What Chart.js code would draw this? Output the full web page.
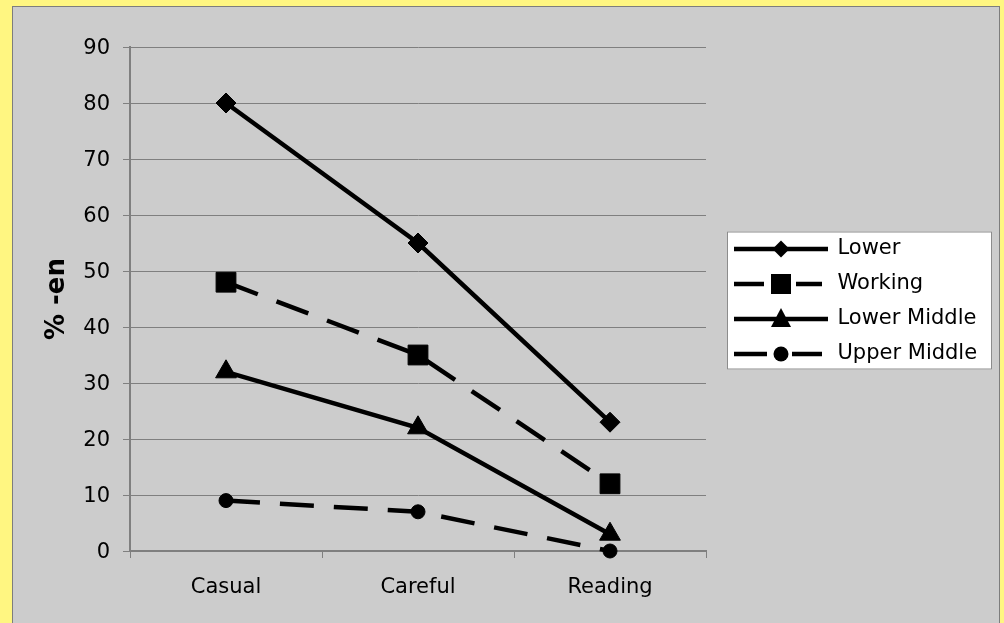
<!DOCTYPE html>
<html>
<head>
<meta charset="utf-8">
<script src="https://cdn.jsdelivr.net/npm/chart.js@4"></script>
<style>
  html, body { margin: 0; padding: 0; background: #FFF681; width: 1004px; height: 623px; overflow: hidden; }
  #panel { position: absolute; left: 12px; top: 6px; width: 986px; height: 620px; background: #CCCCCC;
           border: 1px solid #7d7d7d; border-bottom: none; }
  canvas { display: block; }
</style>
</head>
<body>
<div id="panel"><canvas id="c" width="986" height="616"></canvas></div>
<script>
const categories = ['Casual', 'Careful', 'Reading'];
const seriesNames = ['Lower', 'Working', 'Lower Middle', 'Upper Middle'];
const lowerValues = [80, 55, 23];
const workingValues = [48, 35, 12];
const lowerMiddleValues = [32, 22, 3];
const upperMiddleValues = [9, 7, 0];
const yTickMin = 0, yTickMax = 90, yTickStep = 10;
const yTitle = '% -en';

const FONT = "'DejaVu Sans', Verdana, sans-serif";
Chart.defaults.font.family = FONT;
Chart.defaults.font.size = 21;
Chart.defaults.color = '#000';

function legendImage(kind, dashed) {
  const c = document.createElement('canvas');
  c.width = 94; c.height = 26;
  const g = c.getContext('2d');
  g.fillStyle = '#000'; g.strokeStyle = '#000'; g.lineWidth = 4.5;
  const cx = 47, cy = 13;
  g.beginPath();
  if (dashed) {
    const gapL = kind === 'circle' ? 33 : 30;
    const gapR = kind === 'circle' ? 58 : 62;
    g.moveTo(0, cy); g.lineTo(gapL, cy);
    g.moveTo(gapR, cy); g.lineTo(88, cy);
  } else {
    g.moveTo(0, cy); g.lineTo(94, cy);
  }
  g.stroke();
  g.beginPath();
  if (kind === 'rectRot') {
    g.moveTo(cx - 8.5, cy); g.lineTo(cx, cy - 8.5); g.lineTo(cx + 8.5, cy); g.lineTo(cx, cy + 8.5);
  } else if (kind === 'rect') {
    g.rect(cx - 10, cy - 10, 20, 20);
  } else if (kind === 'triangle') {
    g.moveTo(cx, cy - 11); g.lineTo(cx + 10, cy + 8); g.lineTo(cx - 10, cy + 8);
  } else {
    g.arc(cx, cy, 7.5, 0, Math.PI * 2);
  }
  g.closePath();
  g.fill();
  return c;
}

const styles = [
  {values: lowerValues, point: 'rectRot', radius: 10, dash: []},
  {values: workingValues, point: 'rect', radius: 14, dash: [34, 20]},
  {values: lowerMiddleValues, point: 'triangle', radius: 12, dash: []},
  {values: upperMiddleValues, point: 'circle', radius: 7, dash: [34, 20]},
];
const legendImgs = styles.map(s => legendImage(s.point, s.dash.length > 0));

const datasets = styles.map((s, i) => ({
  label: seriesNames[i],
  data: s.values,
  borderColor: '#000',
  backgroundColor: '#000',
  borderWidth: 4.5,
  borderDash: s.dash,
  tension: 0,
  fill: false,
  pointStyle: s.point,
  pointRadius: s.radius,
  pointBackgroundColor: '#000',
  pointBorderColor: '#000',
  pointBorderWidth: 1,
  clip: false
}));

const LEGEND_TITLE_H = 5;

const legendBox = {
  id: 'legendBox',
  beforeDraw(chart) {
    const lg = chart.legend;
    if (!lg) return;
    const pad = lg.options.labels.padding;
    const itemH = lg.options.labels.font.size;
    const n = lg.legendItems.length;
    const colH = n * (itemH + pad);
    const startY = (lg.top + LEGEND_TITLE_H + pad + lg.bottom - colH) / 2;
    const ctx = chart.ctx;
    const x = lg.left + pad - 8;
    const y = startY - 7;
    const w = 265;
    const h = colH - pad + 12;
    ctx.save();
    ctx.fillStyle = '#fff';
    ctx.fillRect(x, y, w, h);
    ctx.strokeStyle = '#8c8c8c';
    ctx.lineWidth = 1;
    ctx.strokeRect(x + 0.5, y + 0.5, w - 1, h - 1);
    ctx.restore();
  }
};

new Chart(document.getElementById('c'), {
  type: 'line',
  data: { labels: categories, datasets },
  options: {
    responsive: false,
    animation: false,
    devicePixelRatio: 1,
    events: [],
    layout: { padding: { left: 0, top: 40, right: 14, bottom: 12 } },
    scales: {
      x: {
        offset: true,
        grid: { display: true, drawOnChartArea: false, drawTicks: true, tickLength: 7, offset: true, color: '#7f7f7f', lineWidth: 1 },
        border: { display: true, color: '#7f7f7f', width: 2 },
        ticks: { padding: 17, font: { size: 21 }, color: '#000' },
        afterFit(s) { s.height = 60; }
      },
      y: {
        min: yTickMin, max: yTickMax,
        ticks: { stepSize: yTickStep, padding: 13, labelOffset: 1.5, font: { size: 21 }, color: '#000' },
        grid: { color: '#7f7f7f', lineWidth: 1, tickLength: 7 },
        border: { display: true, color: '#7f7f7f', width: 2 },
        title: { display: true, text: yTitle, font: { size: 26, weight: 'bold' }, color: '#000', padding: { top: 29, bottom: 0 } },
        afterFit(s) { s.width = 117; }
      },
      y2: {
        type: 'linear', position: 'right', display: true,
        grid: { display: false, drawTicks: false },
        border: { display: false },
        ticks: { display: false },
        afterFit(s) { s.width = 15; }
      }
    },
    plugins: {
      tooltip: { enabled: false },
      legend: {
        position: 'right',
        align: 'center',
        fullSize: false,
        maxWidth: 264,
        title: { display: true, text: '', font: { size: LEGEND_TITLE_H, lineHeight: 1 }, padding: 0 },
        labels: {
          usePointStyle: true,
          pointStyleWidth: 92,
          padding: 14,
          color: '#000',
          font: { size: 21 },
          generateLabels(chart) {
            return Chart.defaults.plugins.legend.labels.generateLabels(chart)
              .map((l, i) => Object.assign(l, { pointStyle: legendImgs[i] }));
          }
        }
      }
    }
  },
  plugins: [legendBox]
});
</script>
</body>
</html>
